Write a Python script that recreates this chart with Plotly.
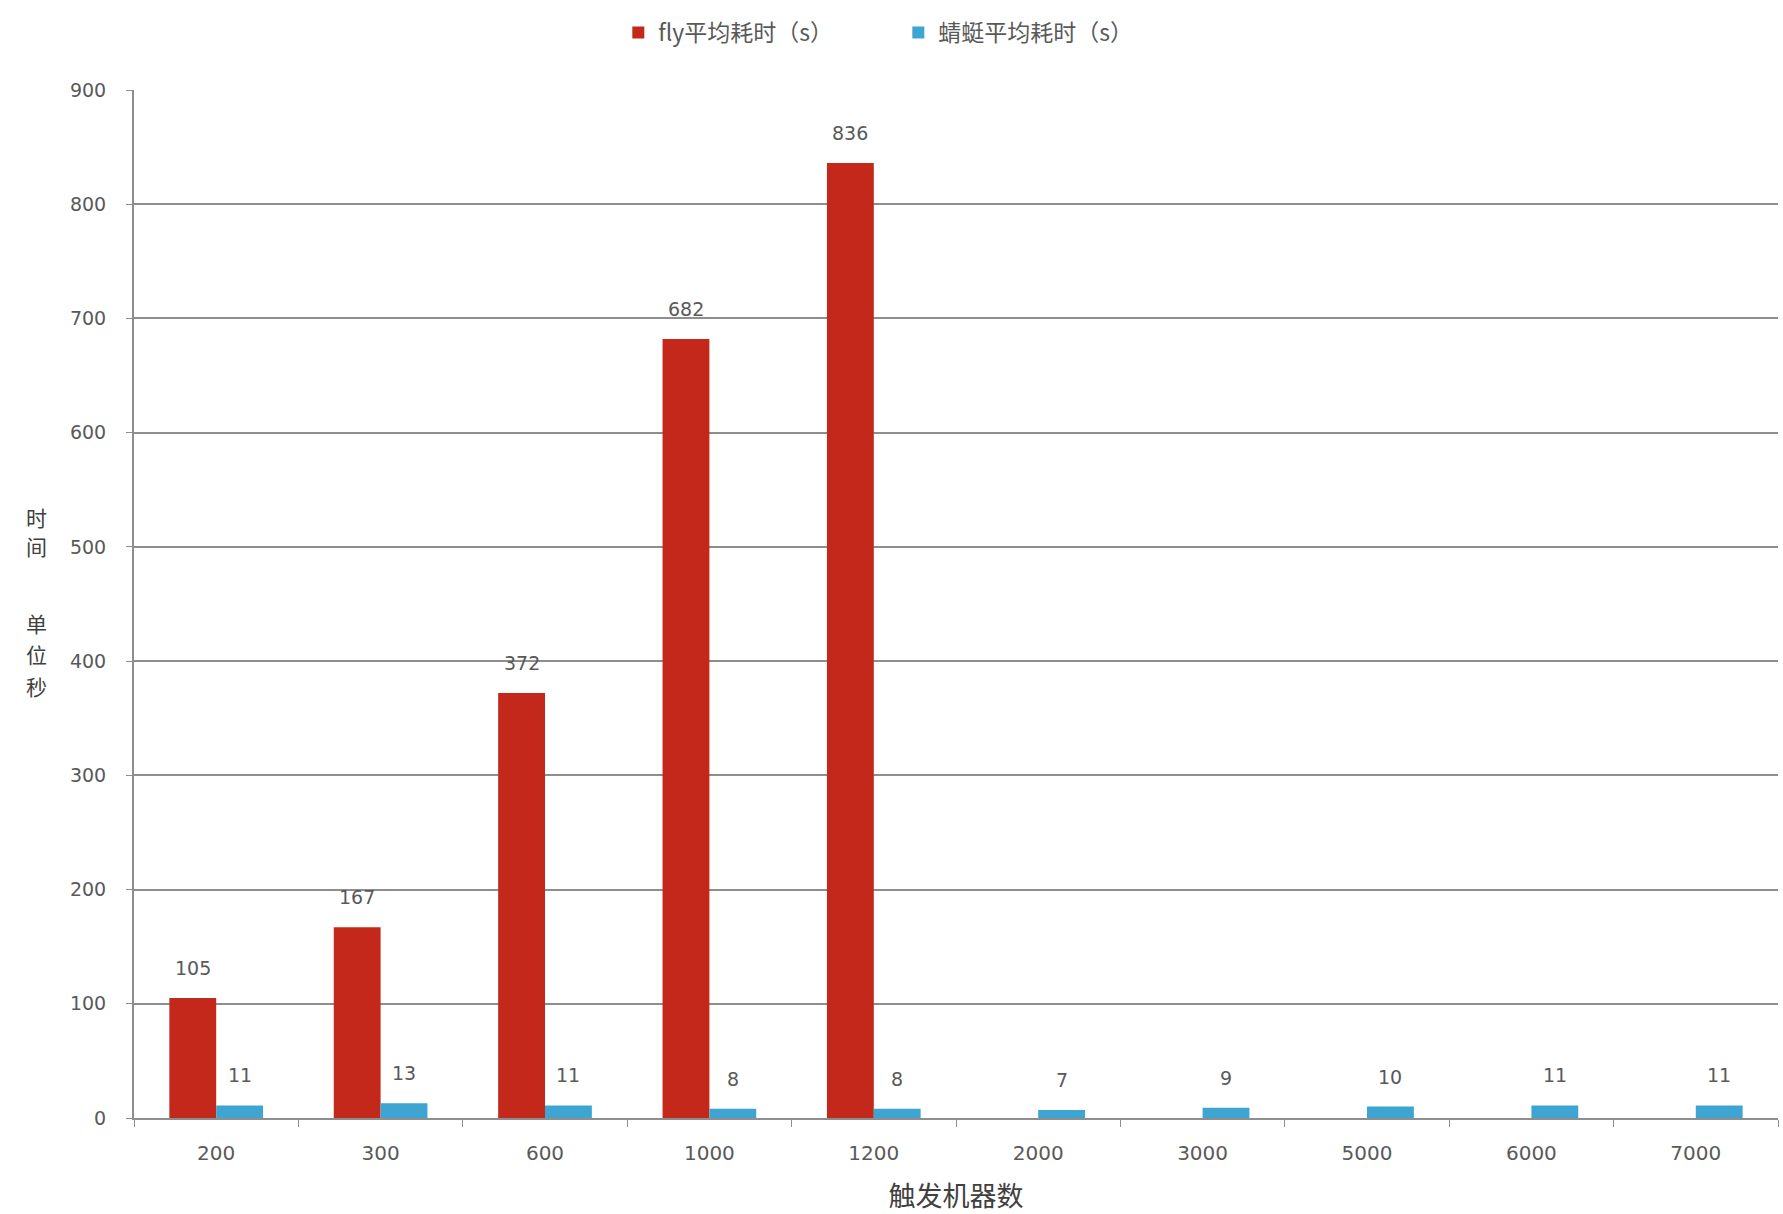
import plotly.graph_objects as go

# Machine counts triggered and average elapsed time (seconds)
machines = ["200", "300", "600", "1000", "1200", "2000", "3000", "5000", "6000", "7000"]
fly_avg = [105, 167, 372, 682, 836, None, None, None, None, None]
dragonfly_avg = [11, 13, 11, 8, 8, 7, 9, 10, 11, 11]

fly_name = "fly平均耗时（s）"
dragonfly_name = "蜻蜓平均耗时（s）"
y_ticks = list(range(0, 1000, 100))
y_caption = ["时", "间", "单", "位", "秒"]

RED = "#C3281B"
BLUE = "#3EA5D2"
TEXT = "#595959"
GRID = "#8E8E8E"
FONT = "Noto Sans CJK SC"
NUM_FONT = "DejaVu Sans"

BARGAP = 0.43
fig = go.Figure()
fig.add_trace(go.Bar(
    name=fly_name, x=machines, y=fly_avg,
    marker=dict(color=RED, line=dict(width=0)),
))
fig.add_trace(go.Bar(
    name=dragonfly_name, x=machines, y=dragonfly_avg,
    marker=dict(color=BLUE, line=dict(width=0)),
))

# Value labels above each bar, shifted to the bar's slot within the group
plot_w = 1783 - 134 - 5
cat_w = plot_w / len(machines)
bar_w = cat_w * (1 - BARGAP) / 2
for series, side in ((fly_avg, -1), (dragonfly_avg, 1)):
    for idx, v in enumerate(series):
        if v is None:
            continue
        fig.add_annotation(
            x=idx, y=v, xref="x", yref="y",
            text=str(v), showarrow=False,
            xanchor="center", yanchor="bottom",
            xshift=side * bar_w / 2, yshift=17,
            font=dict(size=19, color=TEXT, family=NUM_FONT),
        )

fig.update_layout(
    width=1783, height=1214,
    margin=dict(l=134, r=5, t=90, b=96),
    paper_bgcolor="white", plot_bgcolor="white",
    font=dict(family=FONT, color=TEXT, size=17),
    barmode="group", bargap=BARGAP, bargroupgap=0.0,
    showlegend=True,
    legend=dict(
        orientation="h", x=0.2946, xanchor="left", y=1.056, yanchor="middle",
        font=dict(size=23, color=TEXT, family=FONT),
        itemwidth=30, entrywidth=235, entrywidthmode="pixels",
    ),
)

fig.update_xaxes(
    type="category",
    categoryorder="array", categoryarray=machines,
    range=[-0.5, len(machines) - 0.5],
    automargin=False,
    showgrid=False,
    showline=True, linecolor=GRID, linewidth=2,
    ticks="outside", tickson="boundaries", ticklen=7, tickcolor=GRID, tickwidth=1,
    tickfont=dict(size=20, color=TEXT, family=NUM_FONT),
    tickangle=0,
    ticklabelstandoff=16,
    title=dict(text="触发机器数", font=dict(size=27, color="#404040", family=FONT), standoff=30),
)

fig.update_yaxes(
    range=[0, 900],
    tickvals=y_ticks,
    automargin=False,
    showgrid=True, gridcolor=GRID, gridwidth=2,
    showline=True, linecolor=GRID, linewidth=2,
    ticks="outside", ticklen=6, tickcolor=GRID,
    tickfont=dict(size=19, color=TEXT, family=NUM_FONT),
    ticklabelstandoff=16,
    zeroline=False,
)

# Vertical y-axis caption, one character per line ("时间" / "单位秒")
caption_y = [0.5846, 0.5564, 0.4815, 0.4514, 0.4202]
for ch, yy in zip(y_caption, caption_y):
    fig.add_annotation(
        text=ch, xref="paper", yref="paper",
        x=-0.052, y=yy, xanchor="right", yanchor="middle",
        showarrow=False, align="center",
        font=dict(size=21, color="#404040", family=FONT),
    )

fig.write_html("out.html")
